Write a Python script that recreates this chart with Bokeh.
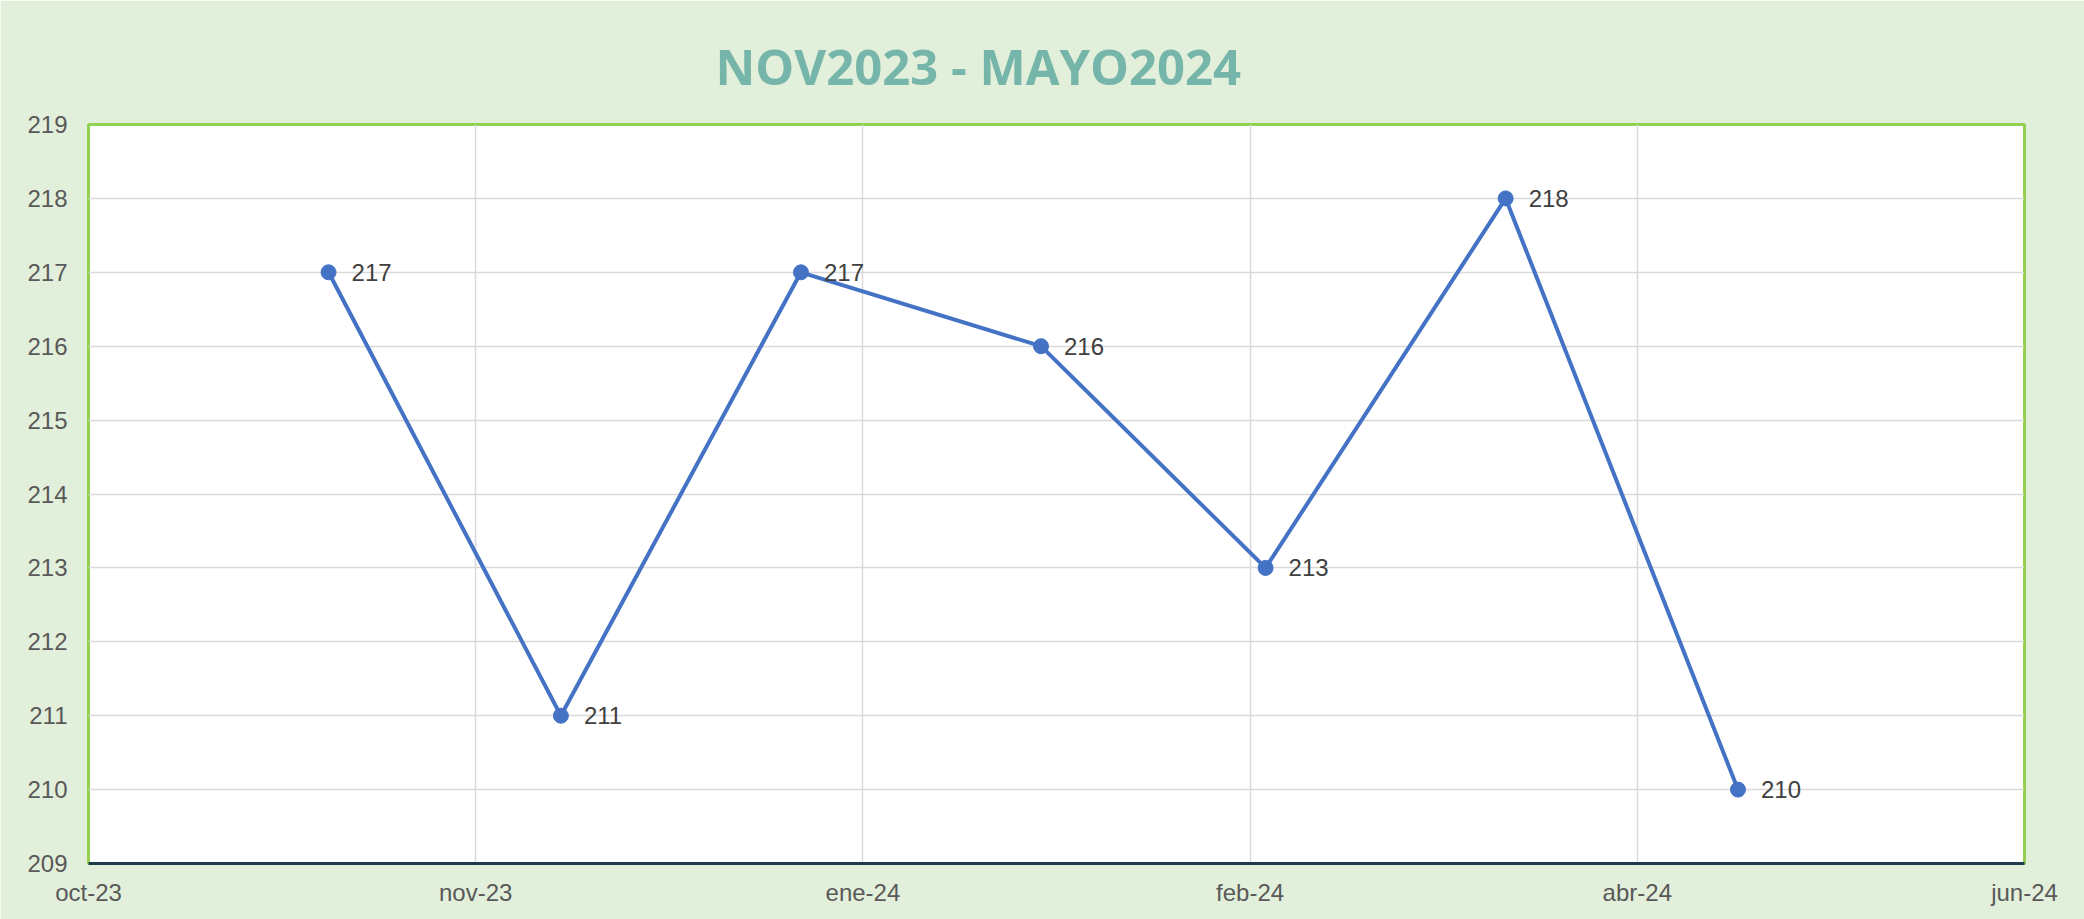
import pandas as pd
from bokeh.plotting import figure
from bokeh.models import Range1d, FixedTicker, ColumnDataSource, LabelSet
from bokeh.core.properties import value
from bokeh.embed import file_html
from bokeh.resources import INLINE

# ---- data ----
fechas = ["2023-11-01", "2023-12-01", "2024-01-01", "2024-02-01",
          "2024-03-01", "2024-04-01", "2024-05-01"]
valores = [217, 211, 217, 216, 213, 218, 210]
eje_inicio = "2023-10-01"
tick_dias = [0, 50, 100, 150, 200, 250]
tick_etiquetas = ["oct-23", "nov-23", "ene-24", "feb-24", "abr-24", "jun-24"]
y_ticks = list(range(209, 220))
titulo = "NOV2023 - MAYO2024"

dias = [(pd.Timestamp(f) - pd.Timestamp(eje_inicio)).days for f in fechas]
src = ColumnDataSource(dict(x=dias, y=valores, t=[str(v) for v in valores]))

BG = "#E2EFDA"
FONT = "Liberation Sans"

p = figure(width=2084, height=919, output_backend="svg", toolbar_location=None,
           x_range=Range1d(tick_dias[0], tick_dias[-1]),
           y_range=Range1d(y_ticks[0], y_ticks[-1]),
           min_border_left=88, min_border_right=60,
           min_border_top=124, min_border_bottom=56)

p.background_fill_color = "white"
p.border_fill_color = BG
p.outline_line_color = "#92D050"
p.outline_line_width = 3

# title
p.title.text = titulo
p.title.text_font = "Open Sans"
p.title.text_font_style = "bold"
p.title.text_font_size = "49px"
p.title.text_color = "#76B5A9"
p.title.text_line_height = 0.6
p.title.align = "left"
p.title.offset = 627
p.title.standoff = 51

# axes
p.xaxis.ticker = FixedTicker(ticks=tick_dias)
p.xaxis.major_label_overrides = {d: lab for d, lab in zip(tick_dias, tick_etiquetas)}
p.yaxis.ticker = FixedTicker(ticks=y_ticks)
for ax in (p.xaxis, p.yaxis):
    ax.major_label_text_font = FONT
    ax.major_label_text_font_size = "24px"
    ax.major_label_text_color = "#595959"
    ax.major_tick_line_color = None
    ax.minor_tick_line_color = None
    ax.major_tick_out = 0
    ax.major_tick_in = 0
p.xaxis.axis_line_color = "#1F3A4A"
p.xaxis.axis_line_width = 3
p.xaxis.major_label_standoff = 15
p.yaxis.axis_line_color = None
p.yaxis.major_label_standoff = 21

p.xgrid.ticker = FixedTicker(ticks=tick_dias)
p.ygrid.ticker = FixedTicker(ticks=y_ticks)
for g in (p.xgrid, p.ygrid):
    g.grid_line_color = "#D9D9D9"
    g.grid_line_width = 1.5

# series
p.line("x", "y", source=src, line_color="#4472C4", line_width=4)
p.scatter("x", "y", source=src, size=15, fill_color="#4472C4", line_color="#4472C4")

labels = LabelSet(x="x", y="y", text="t", source=src, x_offset=23, y_offset=0,
                  text_baseline="middle", text_align="left",
                  text_font=value(FONT), text_font_size=value("24px"),
                  text_color="#404040")
p.add_layout(labels)

open("out.html", "w").write(file_html(p, INLINE))
